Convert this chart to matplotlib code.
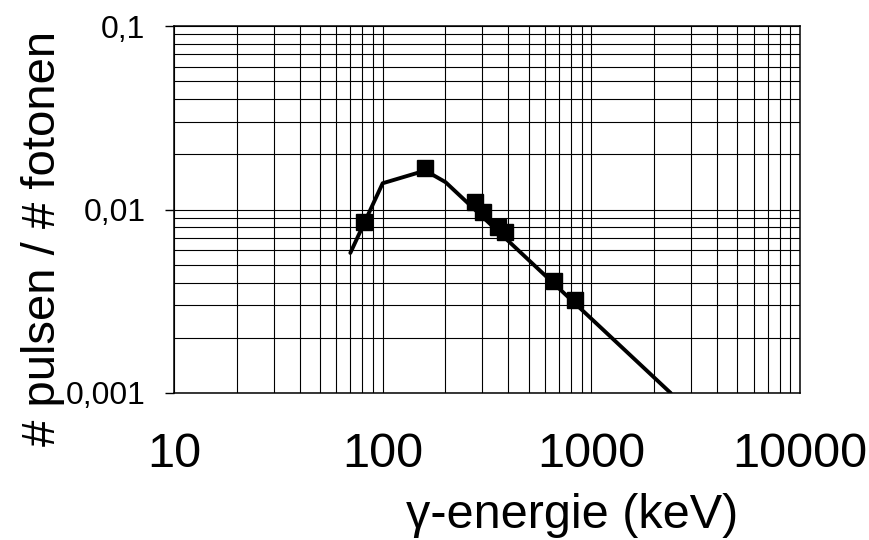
import numpy as np
import matplotlib
matplotlib.use('Agg')
import matplotlib.pyplot as plt
from matplotlib.ticker import FixedLocator, LogLocator, NullFormatter

plt.rcParams['font.family'] = ['Liberation Sans', 'DejaVu Sans']

# measured points (keV, pulses per photon)
energy_pts = [81, 160, 276, 303, 356, 384, 662, 835]
eff_pts = [0.00855, 0.0169, 0.0110, 0.0097, 0.0080, 0.00754, 0.00408, 0.00321]

# fitted efficiency curve
energy_fit = [70, 100, 160, 200, 2400]
eff_fit = [0.0058, 0.0139, 0.0163, 0.0141, 0.001]

xticks = [10, 100, 1000, 10000]
xtick_labels = ['10', '100', '1000', '10000']
yticks = [0.001, 0.01, 0.1]
ytick_labels = ['0,001', '0,01', '0,1']

fig = plt.figure(figsize=(8.69, 5.40), dpi=100)
ax = fig.add_axes([174 / 869, 1 - 393 / 540, (800 - 174) / 869, (393 - 26) / 540])

ax.set_xscale('log')
ax.set_yscale('log')
ax.set_xlim(10, 10000)
ax.set_ylim(0.001, 0.1)

ax.plot(energy_fit, eff_fit, color='black', lw=2.8, solid_capstyle='round', zorder=3)
ax.plot(energy_pts, eff_pts, ls='none', marker='s', ms=12, color='black', zorder=4)

ax.xaxis.set_major_locator(FixedLocator(xticks))
ax.set_xticklabels(xtick_labels)
ax.yaxis.set_major_locator(FixedLocator(yticks))
ax.set_yticklabels(ytick_labels)
ax.xaxis.set_minor_locator(LogLocator(base=10, subs=np.arange(2, 10)))
ax.yaxis.set_minor_locator(LogLocator(base=10, subs=np.arange(2, 10)))
ax.xaxis.set_minor_formatter(NullFormatter())
ax.yaxis.set_minor_formatter(NullFormatter())

ax.grid(True, which='both', color='black', lw=0.8)
ax.set_axisbelow(True)

ax.tick_params(axis='x', which='both', length=0, labelsize=35, pad=28)
ax.tick_params(axis='y', which='major', length=6.5, width=1, labelsize=23, pad=14)
ax.tick_params(axis='y', which='minor', length=0)

for sp in ax.spines.values():
    sp.set_linewidth(1.1)

fig.text(43 / 869, 1 - 238 / 540, '# pulsen / # fotonen', rotation=90,
         ha='center', va='center', fontsize=34)
fig.text(572 / 869, 1 - 515 / 540, 'γ-energie (keV)',
         ha='center', va='center', fontsize=35)

fig.savefig('out.png', dpi=100)
